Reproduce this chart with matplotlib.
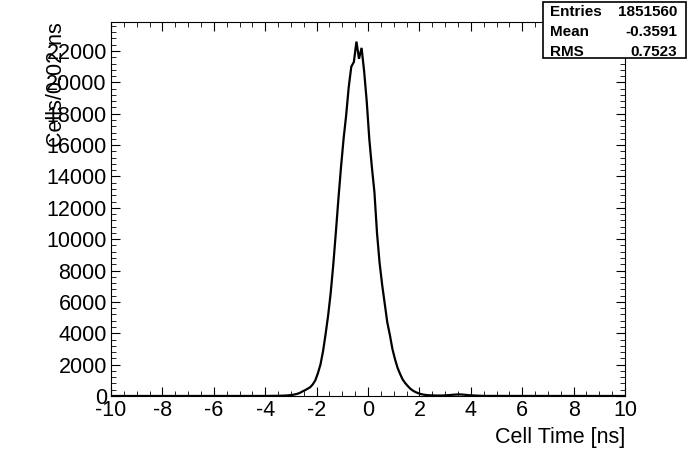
import numpy as np
import matplotlib
matplotlib.use("Agg")
import matplotlib.pyplot as plt
from matplotlib.patches import Rectangle

plt.rcParams["font.family"] = ["Liberation Sans", "DejaVu Sans"]
plt.rcParams["axes.unicode_minus"] = False

# sample points (ns) and counts per 0.02 ns
centers = [-10.0, -4.05,
           -3.95, -3.85, -3.75, -3.65, -3.55, -3.45, -3.35, -3.25, -3.15, -3.05,
           -2.95, -2.85, -2.75, -2.65, -2.55, -2.45, -2.35, -2.25, -2.15, -2.05,
           -1.95, -1.85, -1.75, -1.65, -1.55, -1.45, -1.35, -1.25, -1.15, -1.05,
           -0.95, -0.85, -0.75, -0.65, -0.55, -0.45, -0.35, -0.25, -0.15, -0.05,
           0.05, 0.15, 0.25, 0.35, 0.45, 0.55, 0.65, 0.75, 0.85, 0.95,
           1.05, 1.15, 1.25, 1.35, 1.45, 1.55, 1.65, 1.75, 1.85, 1.95,
           2.05, 2.15, 2.25, 2.35, 2.45, 2.55, 2.65, 2.75, 2.85, 2.95,
           3.05, 3.15, 3.25, 3.35, 3.45, 3.55, 3.65, 3.75, 3.85, 3.95,
           4.05, 4.15, 4.25, 4.35, 4.45, 4.55, 10.0]
counts = [0, 3,
          5, 5, 8, 10, 12, 15, 20, 25, 35, 50,
          70, 100, 140, 200, 290, 370, 460, 560, 740, 1000,
          1450, 2000, 2850, 3950, 5150, 6600, 8400, 10450, 12600, 14600,
          16400, 17900, 19700, 21000, 21300, 22600, 21500, 22200, 20700, 18800,
          16400, 14600, 13000, 10400, 8500, 7100, 5900, 4700, 3900, 3000,
          2350, 1800, 1400, 1050, 820, 630, 460, 340, 250, 180,
          130, 90, 65, 50, 40, 35, 30, 30, 30, 35,
          45, 55, 70, 85, 95, 100, 95, 80, 65, 50,
          40, 30, 22, 15, 10, 5, 0]

stats_names = ["Entries", "Mean", "RMS"]
stats_values = ["1851560", "-0.3591", "0.7523"]

fig = plt.figure(figsize=(6.96, 4.72), dpi=100)
ax = fig.add_axes([111/696, 76/472, 514/696, 374/472])
ax.plot(centers, counts, color="black", lw=1.6, solid_joinstyle="miter")

ax.set_xlim(-10, 10)
ax.set_ylim(0, 23850)
ax.set_xticks(np.arange(-10, 11, 2))
ax.set_xticks(np.arange(-10, 10.1, 0.5), minor=True)
ax.set_yticks(np.arange(0, 22001, 2000))
ax.set_yticks(np.arange(0, 23850, 400), minor=True)
ax.tick_params(which="both", direction="in", top=True, right=True, labelsize=15.5, pad=3)
ax.tick_params(which="major", length=6.5)
ax.tick_params(which="minor", length=3.3)

ax.set_xlabel("Cell Time [ns]", fontsize=15.5, loc="right")
ax.xaxis.set_label_coords(1.0, -0.083)
ax.set_ylabel("Cells/0.02 ns", fontsize=15.5, loc="top")
ax.yaxis.set_label_coords(-0.086, 1.0)

# stats box
fig.patches.append(Rectangle((0.78, 0.877), 0.205, 0.118, transform=fig.transFigure,
                             facecolor="white", edgecolor="black", lw=1.2, zorder=5))
for i, (name, val) in enumerate(zip(stats_names, stats_values)):
    yy = 1 - (12 + 20 * i) / 472
    fig.text(550/696, yy, name, fontsize=11, fontweight="bold", va="center", zorder=6)
    fig.text(677/696, yy, val, fontsize=11, fontweight="bold", va="center", ha="right", zorder=6)

fig.savefig("out.png", dpi=100)
